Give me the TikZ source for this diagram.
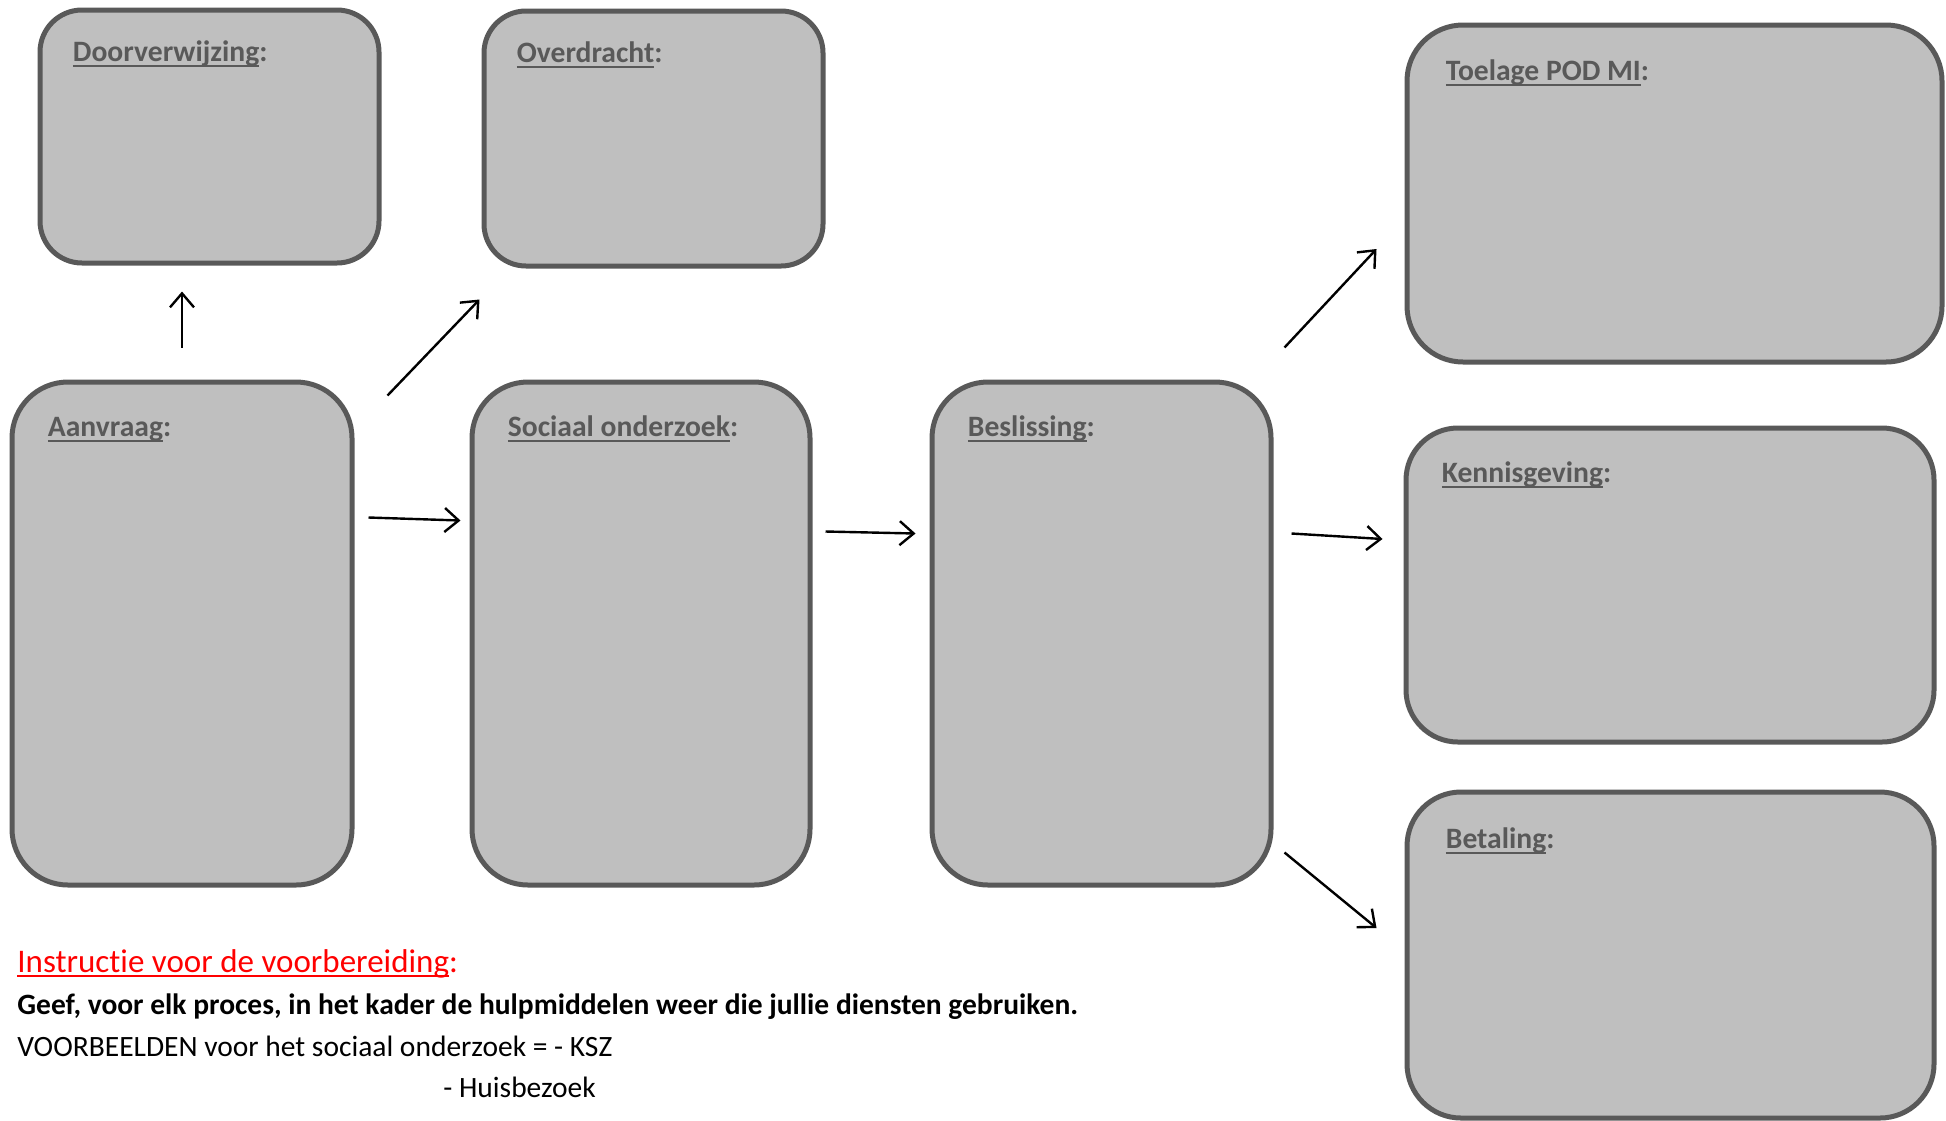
\documentclass[tikz,border=0pt]{standalone}
\usepackage{fontspec}
\setmainfont{Carlito}[Ligatures=NoCommon]
\usepackage{tikz}
\usetikzlibrary{arrows.meta}
\usetikzlibrary{positioning}

\definecolor{kadergrijs}{HTML}{BFBFBF}
\definecolor{randgrijs}{HTML}{595959}
\newcommand{\onderlijn}[1]{\setbox0\hbox{#1}\rlap{\rule[-2.5pt]{\wd0}{1pt}}\box0}

\begin{document}
\begin{tikzpicture}[x=0.5pt,y=-0.5pt,
  kader/.style={draw=randgrijs,fill=kadergrijs,line width=2.5pt,inner sep=0pt},
  titel/.style={anchor=base west,inner sep=0pt,text=randgrijs,
    font=\fontsize{14.8}{17}\selectfont\bfseries},
  tekst/.style={anchor=base west,inner sep=0pt,font=\fontsize{14.75}{17}\selectfont},
  pijl/.style={line width=1.2pt,-{Straight Barb[length=7pt,width=12pt]}}]

  \useasboundingbox (0,0) rectangle (1946,1120);

  % bovenste rij
  \node[kader,minimum width=169.5pt,minimum height=126.5pt,rounded corners=21pt]
    (doorv) at (209.5,136.5) {};
  \node[kader,minimum width=169.5pt,minimum height=127.5pt,rounded corners=21pt]
    (overdr) at (653.5,138.5) {};
  \node[kader,minimum width=267.5pt,minimum height=168.5pt,rounded corners=28pt]
    (toelage) at (1674.5,193.5) {};

  % processen
  \node[kader,minimum width=170pt,minimum height=251.5pt,rounded corners=28pt]
    (aanvraag) at (182,633.5) {};
  \node[kader,minimum width=169pt,minimum height=251.5pt,rounded corners=28pt]
    (sociaal) at (641,633.5) {};
  \node[kader,minimum width=169.5pt,minimum height=251.5pt,rounded corners=28pt]
    (besl) at (1101.5,633.5) {};

  % rechts
  \node[kader,minimum width=264pt,minimum height=157pt,rounded corners=26pt]
    (kennis) at (1670,585) {};
  \node[kader,minimum width=263.5pt,minimum height=163pt,rounded corners=27pt]
    (betaling) at (1670.5,955) {};

  \foreach \n/\t/\dx/\dy in {doorv/Doorverwijzing/35/54,overdr/Overdracht/35/54,
    toelage/Toelage POD MI/41/58,aanvraag/Aanvraag/38/57,
    sociaal/Sociaal onderzoek/38/57,besl/Beslissing/38/57,
    kennis/Kennisgeving/38/57,betaling/Betaling/41/59}
    \node[titel] (\n-titel) at ([shift={(\dx,\dy)}]\n.north west) {\onderlijn{\t}:};

  % pijlen
  \draw[pijl] ([shift={(0,-32)}]aanvraag.north) -- ([shift={(-27.5,26)}]doorv.south);
  \draw[pijl] ([shift={(33,16)}]aanvraag.north east) -- ([shift={(-2,31)}]overdr.south west);
  \draw[pijl] ([shift={(14,138)}]aanvraag.north east) -- ([shift={(-9,141)}]sociaal.north west);
  \draw[pijl] ([shift={(13,152)}]sociaal.north east) -- ([shift={(-14,154)}]besl.north west);
  \draw[pijl] ([shift={(11,-32)}]besl.north east) -- ([shift={(-28,55.5)}]toelage.west);
  \draw[pijl] ([shift={(18,154)}]besl.north east) -- ([shift={(-21,-46)}]kennis.west);
  \draw[pijl] ([shift={(11,-35)}]besl.south east) -- ([shift={(-28,-27)}]betaling.west);

  % instructie
  \node[tekst,text=red,font=\fontsize{16.5}{19}\selectfont] (instructie)
    at (17,972) {\onderlijn{Instructie voor de voorbereiding}:};
  \node[tekst,font=\fontsize{14.75}{17}\selectfont\bfseries] (geef) at (17,1014)
    {Geef, voor elk proces, in het kader de hulpmiddelen weer die jullie diensten gebruiken.};
  \node[tekst] (voorbeelden) at (17,1056) {VOORBEELDEN voor het sociaal onderzoek = - KSZ};
  \node[tekst] (huisbezoek) at (443,1097) {- Huisbezoek};
\end{tikzpicture}
\end{document}
